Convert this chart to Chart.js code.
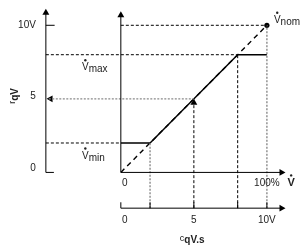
<!DOCTYPE html>
<html>
<head>
<meta charset="utf-8">
<script src="https://cdn.jsdelivr.net/npm/chart.js@4"></script>
<style>
html,body{margin:0;padding:0;background:#fff;}
#wrap{width:304px;height:249px;position:relative;}
</style>
</head>
<body>
<div id="wrap"><canvas id="c"></canvas></div>
<script>
// ---- data ----
const flowTicks = [0, 100];            // V-dot axis, %
const flowTickLabels = ['0', '100%'];
const rTicks = [0, 5, 10];             // r_qV axis, V
const rTickLabels = ['0', '5', '10V'];
const cTicks = [0, 2, 5, 8, 10];       // c_qV.s axis, V
const cTickLabels = ['0', '', '5', '', '10V'];
const curveFlow = [0, 20, 80, 100];    // characteristic
const curveR = [2, 2, 8, 8];
const nomFlow = [0, 100];              // nominal proportional line
const nomR = [0, 10];
const vMin = 2, vMax = 8, vNom = 10;
const sampleC = 5, sampleR = 5;

// ---- layout (in scale units) ----
const X_MIN = -80, X_MAX = 122.667;
const Y_MIN = -4.934, Y_MAX = 11.447;
const leftAxisX = -51.33;
const bottomAxisY = -2.43;
const leftAxisTop = 10.85;
const axisTop = 10.68;
const axisRight = 110;
const cToFlow = v => v * 10;

const pts = (xs, ys) => xs.map((x, i) => ({x, y: ys[i]}));
const BLACK = '#000', GRAY = '#8a8a8a';
const seg = (data, o) => Object.assign({data, showLine: true, pointRadius: 0, borderColor: BLACK, borderWidth: 1, fill: false, tension: 0}, o || {});
const dash = [3, 2], dot = [2, 1.5];

const datasets = [];
// left r_qV axis
datasets.push(seg(pts([leftAxisX, leftAxisX], [0, leftAxisTop])));
datasets.push(seg(pts([leftAxisX, leftAxisX + 5.5], [0, 0])));
datasets.push(seg(pts([leftAxisX, leftAxisX + 6], [rTicks[2], rTicks[2]])));
// main axes
datasets.push(seg(pts([0, 0], [0, axisTop])));
datasets.push(seg(pts([0, axisRight], [0, 0])));
// bottom c_qV.s axis
datasets.push(seg(pts([0, axisRight], [bottomAxisY, bottomAxisY])));
cTicks.forEach(v => datasets.push(seg(pts([cToFlow(v), cToFlow(v)], [bottomAxisY, bottomAxisY + 0.4]))));
// guide lines
datasets.push(seg(pts([0, nomFlow[1]], [vNom, vNom]), {borderDash: dash}));
datasets.push(seg(pts([leftAxisX, curveFlow[2]], [vMax, vMax]), {borderDash: dash}));
datasets.push(seg(pts([leftAxisX, 0], [vMin, vMin]), {borderDash: dash}));
datasets.push(seg(pts([leftAxisX + 2, cToFlow(sampleC)], [sampleR, sampleR]), {borderDash: dot, borderColor: GRAY, borderWidth: 1.4}));
datasets.push(seg(pts([cToFlow(2), cToFlow(2)], [bottomAxisY, vMin]), {borderDash: dot, borderColor: GRAY, borderWidth: 1.4}));
datasets.push(seg(pts([cToFlow(sampleC), cToFlow(sampleC)], [bottomAxisY, sampleR - 0.3]), {borderDash: dash}));
datasets.push(seg(pts([curveFlow[2], curveFlow[2]], [bottomAxisY, vMax]), {borderDash: dash}));
datasets.push(seg(pts([nomFlow[1], nomFlow[1]], [bottomAxisY, vNom]), {borderDash: dot, borderColor: GRAY, borderWidth: 1.4}));
// nominal dashed diagonal
datasets.push(seg(pts(nomFlow, nomR), {borderDash: [5, 4], borderWidth: 1.4}));
// characteristic
datasets.push(seg(pts(curveFlow, curveR), {borderWidth: 1.4}));
// nominal point
datasets.push({data: [{x: nomFlow[1], y: vNom}], showLine: false, pointRadius: 2.6, pointBackgroundColor: BLACK, pointBorderWidth: 0});
// arrowheads
const arrow = (x, y, rot) => ({data: [{x, y}], showLine: false, pointStyle: 'triangle', pointRadius: 4, rotation: rot, pointBackgroundColor: BLACK, pointBorderColor: BLACK, pointBorderWidth: 0});
datasets.push(arrow(leftAxisX, leftAxisTop, 0));
datasets.push(arrow(0, axisTop, 0));
datasets.push(arrow(axisRight, 0, 90));
datasets.push(arrow(axisRight, bottomAxisY, 90));
datasets.push(arrow(leftAxisX + 3.2, sampleR, 270));
datasets.push(arrow(cToFlow(sampleC), sampleR - 0.27, 0));

const FONT = '"Liberation Sans", Arial, sans-serif';
const textPlugin = {
  id: 'texts',
  afterDatasetsDraw(chart) {
    const {ctx} = chart;
    const X = v => chart.scales.x.getPixelForValue(v);
    const Y = v => chart.scales.y.getPixelForValue(v);
    const dotOver = (x, y, w) => { ctx.beginPath(); ctx.arc(x + w / 2, y - 7.5, 1.2, 0, Math.PI * 2); ctx.fill(); };
    ctx.save();
    ctx.fillStyle = '#222';
    ctx.textBaseline = 'middle';
    ctx.font = '10px ' + FONT;
    // left axis labels
    ctx.textAlign = 'right';
    rTicks.forEach((v, i) => {
      const dy = i === 0 ? -4 : (i === 1 ? -3 : 0);
      ctx.fillText(rTickLabels[i], X(leftAxisX) - 10, Y(v) + dy);
    });
    // flow axis labels
    ctx.textAlign = 'center';
    flowTicks.forEach((v, i) => ctx.fillText(flowTickLabels[i], X(v) + (i === 0 ? 4 : 0), Y(0) + 11));
    // c axis labels
    cTicks.forEach((v, i) => { if (cTickLabels[i]) ctx.fillText(cTickLabels[i], X(cToFlow(v)) + (i === 0 ? 4 : 0), Y(bottomAxisY) + 12); });
    // V-dot axis title
    ctx.textAlign = 'left';
    ctx.font = 'bold 11px ' + FONT;
    const vx = X(axisRight) + 6, vy = Y(0) + 11;
    ctx.fillText('V', vx, vy);
    dotOver(vx, vy - 0.5, ctx.measureText('V').width);
    // c_qV.s title
    const tx = X(cToFlow(sampleC)) - 14, ty = Y(bottomAxisY) + 31;
    ctx.font = '9px ' + FONT;
    ctx.fillText('c', tx, ty - 1);
    const cw = ctx.measureText('c').width;
    ctx.font = 'bold 10px ' + FONT;
    ctx.fillText('qV.s', tx + cw, ty + 1);
    // r_qV title (rotated)
    ctx.save();
    ctx.translate(14, Y(sampleR) + 5);
    ctx.rotate(-Math.PI / 2);
    ctx.font = '9px ' + FONT;
    ctx.fillText('r', 0, -1);
    const rw = ctx.measureText('r').width;
    ctx.font = 'bold 10px ' + FONT;
    ctx.fillText('qV', rw, 1);
    ctx.restore();
    // point labels
    const vlabel = (sub, x, y) => {
      ctx.font = '10px ' + FONT;
      ctx.fillText('V', x, y);
      const w = ctx.measureText('V').width;
      dotOver(x, y, w);
      ctx.fillText(sub, x + w, y + 2);
    };
    vlabel('max', 82, Y(vMax) + 13);
    vlabel('min', 82, Y(vMin) + 13);
    vlabel('nom', X(nomFlow[1]) + 7, Y(vNom) - 5);
    ctx.restore();
  }
};

new Chart(document.getElementById('c'), {
  type: 'scatter',
  data: {datasets},
  options: {
    responsive: true,
    maintainAspectRatio: false,
    animation: false,
    layout: {padding: 0},
    plugins: {legend: {display: false}, tooltip: {enabled: false}},
    elements: {line: {borderCapStyle: 'butt'}},
    scales: {
      x: {type: 'linear', min: X_MIN, max: X_MAX, display: false},
      y: {type: 'linear', min: Y_MIN, max: Y_MAX, display: false}
    }
  },
  plugins: [textPlugin]
});
</script>
</body>
</html>
